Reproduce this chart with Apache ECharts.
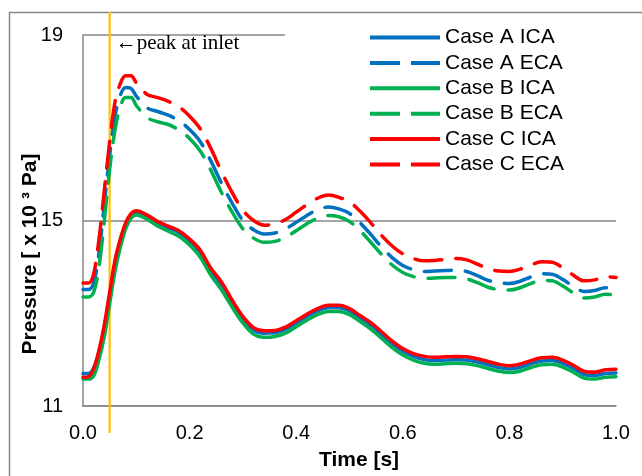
<!DOCTYPE html>
<html>
<head>
<meta charset="utf-8">
<script src="https://cdn.jsdelivr.net/npm/echarts@6/dist/echarts.min.js"></script>
<style>
html,body{margin:0;padding:0;background:#fff;}
#chart{width:642px;height:476px;}
</style>
</head>
<body>
<div id="chart"></div>
<script>
// ---- data ----
const times = [0, 0.01, 0.02, 0.03, 0.04, 0.05, 0.06, 0.07, 0.08, 0.09, 0.10, 0.12, 0.14, 0.16, 0.18, 0.20, 0.22, 0.24, 0.26, 0.28, 0.30, 0.32, 0.34, 0.36, 0.38, 0.40, 0.42, 0.44, 0.46, 0.48, 0.50, 0.52, 0.54, 0.56, 0.58, 0.60, 0.62, 0.64, 0.66, 0.68, 0.70, 0.72, 0.74, 0.76, 0.78, 0.80, 0.82, 0.84, 0.86, 0.88, 0.90, 0.92, 0.94, 0.96, 0.98, 1.00];

const caseA_ICA = [11.7, 11.7, 11.82, 12.17, 12.7, 13.38, 14.07, 14.55, 14.9, 15.11, 15.17, 15.08, 14.94, 14.84, 14.74, 14.56, 14.31, 13.92, 13.61, 13.23, 12.89, 12.64, 12.57, 12.58, 12.65, 12.79, 12.93, 13.05, 13.12, 13.12, 13.05, 12.9, 12.74, 12.54, 12.34, 12.18, 12.07, 12.0, 11.98, 11.99, 12.0, 11.99, 11.95, 11.89, 11.83, 11.8, 11.83, 11.91, 11.97, 11.98, 11.92, 11.81, 11.68, 11.66, 11.7, 11.71];
const caseA_ECA = [13.51, 13.51, 13.65, 14.3, 15.35, 16.4, 17.25, 17.7, 17.87, 17.85, 17.68, 17.43, 17.35, 17.27, 17.15, 16.96, 16.7, 16.28, 15.8, 15.37, 15.0, 14.8, 14.71, 14.73, 14.82, 14.96, 15.11, 15.23, 15.29, 15.25, 15.15, 14.95, 14.7, 14.43, 14.2, 14.03, 13.94, 13.9, 13.91, 13.92, 13.93, 13.9, 13.81, 13.71, 13.66, 13.64, 13.69, 13.78, 13.85, 13.84, 13.73, 13.58, 13.47, 13.49, 13.55, 13.54];
const caseB_ICA = [11.58, 11.58, 11.65, 12.0, 12.5, 13.2, 13.9, 14.42, 14.82, 15.05, 15.12, 15.03, 14.88, 14.77, 14.66, 14.47, 14.21, 13.82, 13.5, 13.13, 12.79, 12.55, 12.48, 12.5, 12.57, 12.71, 12.85, 12.97, 13.04, 13.04, 12.97, 12.82, 12.66, 12.46, 12.26, 12.1, 11.99, 11.92, 11.9, 11.91, 11.92, 11.91, 11.87, 11.81, 11.75, 11.72, 11.75, 11.83, 11.89, 11.9, 11.84, 11.73, 11.6, 11.58, 11.62, 11.63];
const caseB_ECA = [13.35, 13.35, 13.45, 14.0, 15.0, 16.1, 16.95, 17.45, 17.65, 17.65, 17.48, 17.22, 17.13, 17.07, 16.95, 16.77, 16.5, 16.08, 15.6, 15.18, 14.82, 14.62, 14.53, 14.55, 14.64, 14.78, 14.93, 15.05, 15.11, 15.08, 14.98, 14.78, 14.53, 14.27, 14.04, 13.88, 13.79, 13.75, 13.76, 13.77, 13.77, 13.74, 13.66, 13.56, 13.51, 13.5, 13.55, 13.64, 13.71, 13.7, 13.59, 13.44, 13.33, 13.35, 13.41, 13.4];
const caseC_ICA = [11.62, 11.63, 11.8, 12.2, 12.75, 13.45, 14.14, 14.6, 14.95, 15.15, 15.21, 15.12, 14.98, 14.88, 14.78, 14.6, 14.36, 13.97, 13.67, 13.28, 12.93, 12.69, 12.62, 12.63, 12.7, 12.84, 12.98, 13.1, 13.17, 13.17, 13.1, 12.95, 12.8, 12.6, 12.4, 12.24, 12.13, 12.07, 12.05, 12.06, 12.07, 12.06, 12.02, 11.96, 11.9, 11.87, 11.9, 11.98, 12.04, 12.05, 11.99, 11.88, 11.75, 11.73, 11.78, 11.79];
const caseC_ECA = [13.65, 13.65, 13.85, 14.6, 15.65, 16.7, 17.55, 17.95, 18.12, 18.12, 17.97, 17.72, 17.65, 17.57, 17.45, 17.25, 16.98, 16.55, 16.05, 15.6, 15.22, 15.0, 14.9, 14.93, 15.02, 15.18, 15.34, 15.48, 15.55, 15.5, 15.4, 15.2, 14.95, 14.68, 14.45, 14.28, 14.18, 14.13, 14.14, 14.16, 14.18, 14.15, 14.06, 13.96, 13.91, 13.9, 13.95, 14.04, 14.11, 14.1, 13.98, 13.82, 13.7, 13.72, 13.79, 13.77];

const seriesNames = ['Case A ICA', 'Case A ECA', 'Case B ICA', 'Case B ECA', 'Case C ICA', 'Case C ECA'];
const seriesValues = [caseA_ICA, caseA_ECA, caseB_ICA, caseB_ECA, caseC_ICA, caseC_ECA];
const inletPeakTime = 0.05;
const annotationText = '\u2190peak at inlet';
const yTicks = [11, 15, 19];
const xTickStep = 0.2;

// ---- styles ----
const colors = ['#0070C0', '#0070C0', '#00B050', '#00B050', '#FF0000', '#FF0000'];
const dashed = [false, true, false, true, false, true];
const dashPattern = [27, 14];
const solidIcon = 'path://M0,0H70V4H0Z';
const dashIcon = 'path://M0,0H30V4H0Z M41,0H70V4H41Z';

const chart = echarts.init(document.getElementById('chart'), null, {renderer: 'canvas'});

function lineStyleFor(i) {
  return {
    color: colors[i],
    width: 3.5,
    type: dashed[i] ? dashPattern : 'solid',
    cap: 'round',
    join: 'round'
  };
}

const series = seriesNames.map((name, i) => ({
  name: name,
  type: 'line',
  data: times.map((t, k) => [t, seriesValues[i][k]]),
  showSymbol: false,
  symbol: 'none',
  smooth: 0.35,
  z: 3,
  color: colors[i],
  lineStyle: lineStyleFor(i),
  emphasis: {disabled: true}
}));

const option = {
  animation: false,
  backgroundColor: '#fff',
  grid: {left: 83, right: 26, top: 35, bottom: 65, containLabel: false},
  xAxis: {
    type: 'value',
    min: 0,
    max: 1,
    interval: xTickStep,
    name: 'Time [s]',
    nameLocation: 'middle',
    nameGap: 44,
    nameTextStyle: {fontFamily: 'Liberation Sans, Arial', fontSize: 21, fontWeight: 'bold', color: '#000', padding: [0, 0, 0, 19]},
    axisLine: {show: true, lineStyle: {color: '#868686', width: 1.5}},
    axisTick: {show: false},
    splitLine: {show: false},
    axisLabel: {
      fontFamily: 'Liberation Sans, Arial', fontSize: 20, color: '#000', margin: 17,
      formatter: v => v.toFixed(1)
    }
  },
  yAxis: {
    type: 'value',
    min: yTicks[0],
    max: yTicks[yTicks.length - 1],
    interval: yTicks[1] - yTicks[0],
    axisLine: {show: true, lineStyle: {color: '#868686', width: 1.5}},
    axisTick: {show: false},
    splitLine: {show: true, lineStyle: {color: '#868686', width: 1.5}},
    axisLabel: {fontFamily: 'Liberation Sans, Arial', fontSize: 20, color: '#000', margin: 20}
  },
  legend: {
    show: true,
    orient: 'vertical',
    left: 285,
    top: 17,
    padding: [10, 55, 10, 85],
    backgroundColor: '#fff',
    itemWidth: 70,
    itemHeight: 4,
    itemGap: 4.4,
    textStyle: {fontFamily: 'Liberation Sans, Arial', fontSize: 21, color: '#000', lineHeight: 21},
    data: seriesNames.map((name, i) => ({
      name: name,
      icon: dashed[i] ? dashIcon : solidIcon,
      itemStyle: {color: colors[i], borderWidth: 0}
    }))
  },
  series: series
};

chart.setOption(option);

const px = chart.convertToPixel({xAxisIndex: 0}, inletPeakTime);
const yTopPx = chart.convertToPixel({yAxisIndex: 0}, yTicks[yTicks.length - 1]);

chart.setOption({
  graphic: [
    {
      type: 'rect', z: 0, silent: true,
      shape: {x: 9.5, y: 12.5, width: 700, height: 600},
      style: {fill: 'none', stroke: '#868686', lineWidth: 1.5}
    },
    {
      type: 'line', z: 2, silent: true,
      shape: {x1: px, y1: 12, x2: px, y2: 433},
      style: {stroke: '#FFC000', lineWidth: 2.2}
    },
    {
      type: 'text', z: 10, silent: true,
      left: px + 6, top: yTopPx - 2,
      style: {text: annotationText, font: '21px "Liberation Serif", "Times New Roman", serif', fill: '#000'}
    },
    {
      type: 'text', z: 10, silent: true,
      x: 30, y: 254, rotation: Math.PI / 2,
      style: {
        text: 'Pressure [ x 10 \u00B3 Pa]',
        font: 'bold 21px "Liberation Sans", Arial, sans-serif',
        fill: '#000', align: 'center', verticalAlign: 'middle'
      }
    }
  ]
});
</script>
</body>
</html>
